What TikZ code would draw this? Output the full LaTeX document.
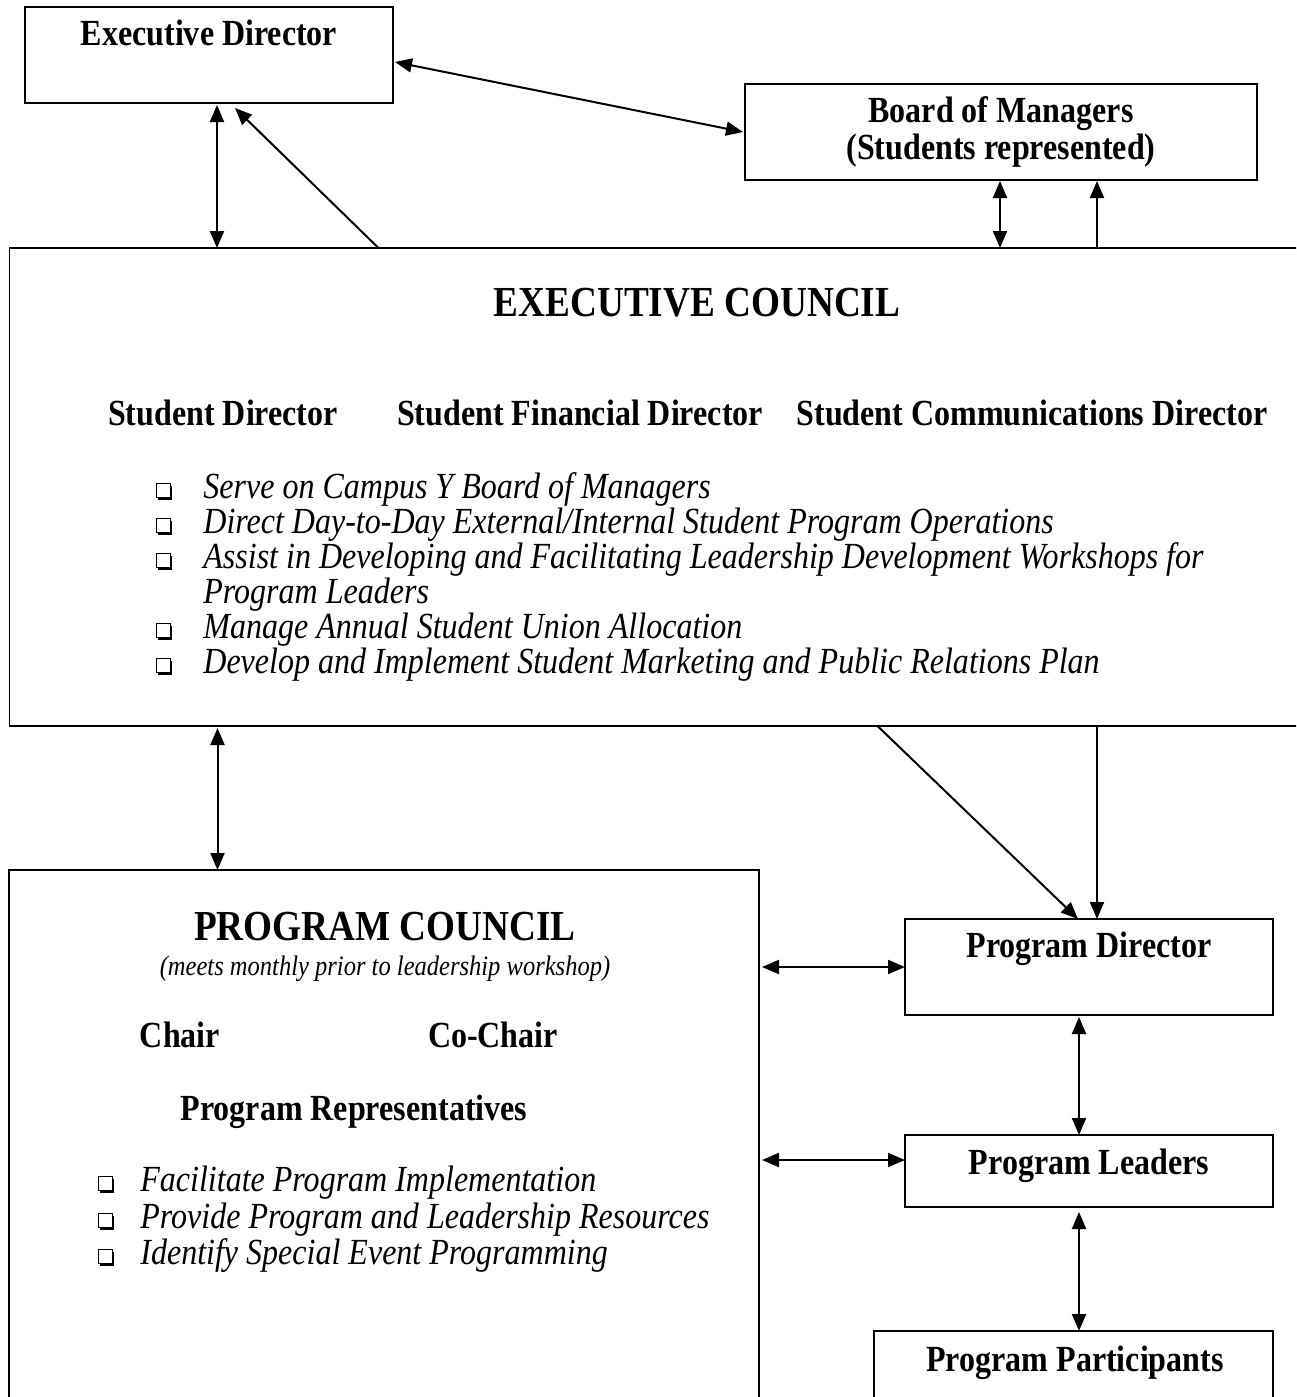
\documentclass[tikz,border=0pt]{standalone}
\usepackage{fontspec}
\setmainfont{Liberation Serif}[FakeStretch=0.87]
\usetikzlibrary{arrows.meta}
\tikzset{
%Define standard arrow tip
>={Triangle[length=8.5pt,width=7pt]},
%Define styles for boxes, texts and links
box/.style={draw, line width=0.7pt, inner sep=0pt, outer sep=0pt},
head/.style={font=\fontsize{18.4}{20}\selectfont\bfseries, anchor=base, inner sep=0pt},
big head/.style={font=\fontsize{21.4}{24}\selectfont\bfseries, anchor=base, inner sep=0pt},
note/.style={font=\fontsize{14.1}{16}\selectfont\itshape, anchor=base, inner sep=0pt},
item/.style={font=\fontsize{18.4}{20}\selectfont\itshape, anchor=base west, inner sep=0pt},
link/.style={line width=1pt},
}
% shadowed square bullet, #1 = gap to the text
\newcommand\qbox[1]{\llap{\tikz[baseline=-0.3pt]{\fill (1.1pt,-1.1pt) rectangle (8.1pt,5.9pt);
  \filldraw[fill=white, line width=0.6pt] (0pt,0pt) rectangle (7pt,7pt);}\hspace{#1}}}

\begin{document}
\begin{tikzpicture}[x=0.5pt, y=-0.5pt]
    % Page frame
    \useasboundingbox (0,0) rectangle (1296,1397);
    \clip (0,0) rectangle (1296,1397);

    % Boxes
    \node[box, minimum width=184pt, minimum height=48pt] (ed) at (209,55) {};
    \node[box, minimum width=256pt, minimum height=48pt] (bom) at (1001,132) {};
    \node[box, minimum width=646pt, minimum height=239pt] (ec) at (655.5,487) {};
    \node[box, minimum width=375pt, minimum height=275pt] (pc) at (384,1145) {};
    \node[box, minimum width=184pt, minimum height=48pt] (pd) at (1089,967) {};
    \node[box, minimum width=184pt, minimum height=36pt] (pl) at (1089,1171) {};
    \node[box, minimum width=199.5pt, minimum height=44.5pt] (pp) at (1073.5,1375.5) {};

    % Box titles
    \node[head] (edname) at (209,45) {Executive Director};
    \node[head] (bomname) at (1001,122) {Board of Managers};
    \node[head] (bomnote) at (1001,159) {(Students represented)};
    \node[head] (pdname) at (1089,957) {Program Director};
    \node[head] (plname) at (1089,1174) {Program Leaders};
    \node[head] (ppname) at (1075,1371) {Program Participants};

    % Executive council
    \node[big head] (ectitle) at (697,316) {EXECUTIVE COUNCIL};
    \node[head] (sd) at (223,425) {Student Director};
    \node[head] (sfd) at (580,425) {Student Financial Director};
    \node[head] (scd) at (1032,425) {Student Communications Director};
    \node[item] (ec1) at (203,498) {\qbox{15.5pt}Serve on Campus Y Board of Managers};
    \node[item] (ec2) at (203,533) {\qbox{15.5pt}Direct Day-to-Day External/Internal Student Program Operations};
    \node[item] (ec3) at (203,568) {\qbox{15.5pt}Assist in Developing and Facilitating Leadership Development Workshops for};
    \node[item] (ec3b) at (203,603) {Program Leaders};
    \node[item] (ec4) at (203,638) {\qbox{15.5pt}Manage Annual Student Union Allocation};
    \node[item] (ec5) at (203,673) {\qbox{15.5pt}Develop and Implement Student Marketing and Public Relations Plan};

    % Program council
    \node[big head] (pctitle) at (385,940) {PROGRAM COUNCIL};
    \node[note] (pcnote) at (385,975) {(meets monthly prior to leadership workshop)};
    \node[head] (chair) at (180,1047) {Chair};
    \node[head] (cochair) at (493,1047) {Co-Chair};
    \node[head] (reps) at (354,1120) {Program Representatives};
    \node[item] (pc1) at (140,1191) {\qbox{13pt}Facilitate Program Implementation};
    \node[item] (pc2) at (140,1228) {\qbox{13pt}Provide Program and Leadership Resources};
    \node[item] (pc3) at (140,1264) {\qbox{13pt}Identify Special Event Programming};

    % Help coordinates for the links
    \path
    coordinate (edout) at ([xshift=4pt,yshift=-1pt]ed.south)
    coordinate (bomout) at ([xshift=-0.5pt,yshift=-0.5pt]bom.south)
    coordinate (bomin) at ([xshift=48pt,yshift=-0.5pt]bom.south)
    coordinate (ecout) at ([xshift=104pt,yshift=-1pt]ec.south west)
    coordinate (pdin) at ([xshift=4pt]pd.north)
    coordinate (pcr) at ([xshift=1.5pt]pc.east)
    coordinate (plin) at ([yshift=5.5pt]pl.west);

    % Links
    \draw[link,<->] ([xshift=1pt,yshift=-3.5pt]ed.east) -- ([xshift=-1pt]bom.west);
    \draw[link,<->] (edout) -- (edout |- ec.north);
    \draw[link,->] ([xshift=184.5pt]ec.north west) -- ([xshift=13pt,yshift=-2.5pt]ed.south);
    \draw[link,<->] (bomout) -- (bomout |- ec.north);
    \draw[link,->] (bomin |- ec.north) -- (bomin);
    \draw[link,<->] (ecout) -- (ecout |- pc.north);
    \draw[link,->] ([xshift=434pt]ec.south west) -- ([xshift=-5.5pt]pd.north);
    \draw[link,->] (pdin |- ec.south) -- (pdin);
    \draw[link,<->] (pcr |- pd.west) -- (pd.west);
    \draw[link,<->] (pcr |- plin) -- (plin);
    \draw[link,<->] ([xshift=-5pt,yshift=-1pt]pd.south) -- ([xshift=-5pt]pl.north);
    \draw[link,<->] ([xshift=-5pt,yshift=-2.5pt]pl.south) -- ([xshift=2.75pt]pp.north);
\end{tikzpicture}
\end{document}
